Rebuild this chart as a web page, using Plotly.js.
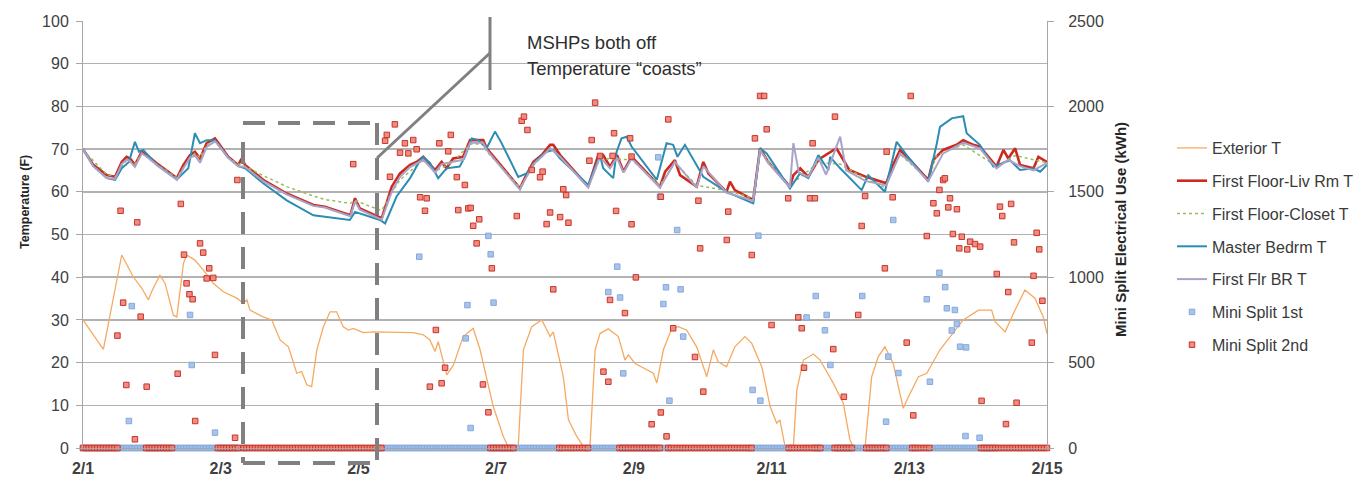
<!DOCTYPE html>
<html>
<head>
<meta charset="utf-8">
<script src="https://cdn.plot.ly/plotly-3.0.1.min.js"></script>
<style>html,body{margin:0;padding:0;background:#fff;}#chart{width:1357px;height:482px;}</style>
</head>
<body>
<div id="chart"></div>
<script>
// ---- data (x = hours since 2/1 00:00) ----
const tickHours = [0, 48, 96, 144, 192, 240, 288, 336];
const tickLabels = ['2/1', '2/3', '2/5', '2/7', '2/9', '2/11', '2/13', '2/15'];

const extH = [0,7.1,13.5,17.5,20.5,22.8,23.9,26.8,28.6,31.5,32.7,35.0,36.1,39.0,41.9,45.4,48.9,53.6,55.9,57.1,58.2,62.8,65.8,68.7,71.6,74.5,76.2,78.0,79.7,81.5,83.8,86.1,88.4,90.7,92.5,94.2,97.7,101.2,115.1,118.6,120.9,122.7,123.8,126.8,129.1,132.5,136.0,138.4,143.0,146.5,148.2,151.7,153.5,156.4,159.9,162.8,163.9,167.4,169.2,172.1,174.4,176.7,178.5,180.2,183.1,186.6,188.9,190.1,192.4,196.5,198.8,200.0,202.3,205.2,207.5,210.4,213.9,217.4,219.7,221.4,224.3,227.2,230.7,233.1,236.6,239.5,241.8,242.9,244.7,247.6,248.8,251.1,254.6,256.9,261.5,265.0,267.3,268.5,272.6,274.9,277.2,279.5,282.4,285.9,287.7,291.2,294.1,298.7,302.2,306.8,312.1,316.7,317.9,321.4,324.3,328.3,331.8,334.7,336];
const extT = [30.0,23.1,45.2,40.1,37.4,34.7,36.6,40.5,38.6,31.1,30.7,43.2,45.2,44.0,41.7,38.6,36.6,35.1,33.9,34.7,32.3,30.7,30.0,25.3,23.7,17.5,17.9,14.8,14.4,23.0,28.4,31.9,31.9,28.4,27.6,28.0,27.0,27.2,27.0,26.5,25.3,22.6,24.9,17.1,19.4,26.1,28.0,23.0,9.7,2.7,0.3,0.3,23.0,28.4,30.0,26.1,27.2,16.7,6.6,2.7,0.3,0.3,23.0,26.8,27.9,26.1,20.6,21.8,19.8,18.3,17.5,15.2,23.0,28.0,28.4,27.6,23.7,16.7,23.0,20.2,19.0,23.7,26.1,24.5,19.0,9.7,5.8,6.6,0.3,0.3,13.6,20.6,22.0,20.6,15.2,10.5,1.9,0.3,0.3,16.7,21.4,23.7,19.8,9.3,12.0,16.7,17.5,23.0,26.1,30.0,32.3,32.3,29.6,27.2,31.5,37.0,35.1,30.7,26.8];

const livH = [0,3.6,8.3,11.2,13.5,15.2,16.4,18.1,20.5,22.2,25.7,32.7,35.0,37.3,39.0,40.8,43.1,46.0,47.2,50.6,54.1,55.3,56.5,62.8,71.0,80.3,84.3,93.2,94.8,96.5,104.1,107.6,110.5,114.0,116.3,118.6,121.0,122.7,125.0,126.7,129.0,132.5,134.9,139.5,140.7,152.3,154.0,157.0,159.9,162.8,163.9,166.3,176.1,179.6,181.3,183.7,186.1,188.4,191.2,201.1,202.9,206.3,208.1,213.9,216.2,218.0,224.3,225.5,227.2,233.6,236.0,238.8,246.4,247.6,250.0,252.8,256.3,262.6,267.1,272.9,280.0,281.8,284.8,288.3,294.6,296.3,299.8,304.5,306.8,310.3,312.6,318.4,320.8,322.5,324.9,326.6,331.3,333.0,336];
const livT = [70.0,66.3,63.9,63.5,67.0,68.2,67.8,66.3,69.4,68.6,66.7,63.2,66.3,68.6,69.4,67.8,71.4,72.5,71.4,68.2,66.3,67.8,66.3,62.8,59.6,56.9,56.5,54.5,58.5,56.1,53.8,61.2,64.3,66.3,67.0,68.2,66.3,65.1,67.0,65.5,67.8,68.2,72.1,72.1,70.2,60.8,63.2,67.0,68.6,71.0,71.0,68.6,61.2,68.6,68.6,65.9,68.6,64.7,68.2,61.2,64.7,67.4,63.9,61.2,67.0,64.3,60.0,62.4,60.4,58.1,70.2,67.0,61.2,63.9,65.5,63.5,67.5,70.2,65.1,63.5,62.0,65.5,69.8,67.4,62.8,67.4,69.8,71.0,72.1,71.0,70.6,65.9,69.8,67.8,70.2,66.3,65.5,68.2,67.0];

const cloH = [0,8.3,11.2,15.2,18.1,20.5,25.7,32.7,37.3,39.0,40.8,43.1,46.0,50.6,54.1,56.5,62.8,71.0,80.3,84.3,93.2,94.8,100.0,104.1,107.6,110.5,114.0,118.6,122.7,129.0,134.9,139.5,140.7,152.3,157.0,162.8,166.3,176.1,180.2,191.2,201.1,206.3,213.9,224.3,233.6,236.0,246.4,256.3,263.9,272.9,279.5,284.8,294.6,297.5,302.2,306.8,318.4,324.9,336];
const cloT = [69.8,64.0,63.5,67.5,66.5,69.0,66.5,63.3,68.0,69.0,68.0,71.0,72.0,68.0,66.5,66.0,63.8,61.2,59.0,58.2,57.3,58.0,56.6,55.6,59.8,62.8,64.8,67.5,64.8,67.0,71.2,71.2,69.5,61.0,66.2,70.3,68.0,61.5,67.8,67.5,61.5,66.8,61.5,60.3,58.5,69.5,61.5,66.8,66.5,63.0,61.0,68.8,62.8,68.5,69.8,71.0,66.0,68.5,66.8];

const masH = [0,3.6,8.3,11.2,13.5,16.0,18.1,19.5,21.0,25.7,32.7,36.7,39.0,40.8,43.1,46.0,47.2,50.6,54.1,56.5,62.8,71.0,80.3,93.0,94.8,103.5,105.3,109.3,114.0,117.5,118.6,121.0,123.8,126.7,131.3,133.1,135.5,137.8,140.7,143.6,145.9,151.7,154.6,158.1,161.6,163.9,166.3,176.1,180.2,181.3,184.8,186.0,187.7,189.5,191.2,200.0,203.4,205.7,207.2,209.8,216.2,224.3,233.6,236.0,238.3,246.4,249.9,252.8,256.3,259.8,260.4,263.9,271.4,273.7,279.5,283.6,287.1,294.6,297.5,298.7,302.8,306.8,308.0,312.6,317.3,323.1,326.6,331.3,333.6,336];
const masT = [70.0,66.0,63.2,62.8,65.5,67.0,71.7,69.4,69.8,66.3,62.9,65.5,73.7,71.4,72.1,72.1,71.0,68.0,66.0,65.5,62.0,58.0,54.5,53.4,55.3,53.4,52.6,58.9,63.2,67.4,68.2,66.7,63.2,65.5,65.9,68.2,72.5,72.1,70.2,74.1,71.4,63.5,64.3,67.4,69.4,69.8,67.8,61.6,68.6,65.5,63.2,69.4,72.5,72.9,70.6,62.8,71.4,71.0,68.2,71.0,63.5,60.0,57.3,70.2,69.0,60.8,64.3,63.2,68.6,65.1,68.2,65.5,60.4,63.9,60.0,71.7,68.6,62.4,71.0,75.2,77.2,77.7,73.7,71.0,65.9,67.4,65.1,65.5,64.7,66.3];

const brH = [0,3.6,8.3,11.2,13.5,15.2,16.4,18.1,20.5,22.2,25.7,32.7,35.0,37.3,39.0,40.8,43.1,46.0,47.2,50.6,54.1,56.5,62.8,71.0,80.3,84.3,93.2,94.8,96.5,104.1,107.6,110.5,114.0,118.6,121.0,122.7,125.0,129.0,132.5,134.9,139.5,140.7,152.3,154.0,157.0,159.9,162.8,166.3,176.1,180.2,183.7,186.1,188.4,191.2,201.1,206.3,213.9,216.2,224.3,233.6,236.0,238.8,246.4,247.6,249.5,252.8,256.3,259.0,263.9,266.0,272.9,280.0,284.8,288.3,294.6,299.8,306.8,312.6,318.4,322.5,326.6,331.3,336];
const brT = [70.0,66.0,63.2,63.0,66.5,67.5,67.2,65.8,69.0,68.2,66.3,62.8,65.5,68.0,68.5,66.8,70.5,71.8,71.0,68.0,66.0,65.8,62.5,59.4,56.7,56.3,54.3,57.8,55.8,53.5,60.0,63.5,65.8,67.5,65.8,64.5,66.5,67.0,67.5,71.5,71.5,69.8,60.5,62.8,66.5,68.2,70.2,68.2,61.0,68.2,65.5,68.0,64.5,67.8,61.0,67.0,61.0,66.0,59.8,57.9,69.8,66.8,61.0,71.4,64.5,63.5,68.0,64.0,72.9,65.0,62.5,61.5,69.0,67.0,62.5,69.0,71.5,70.2,65.5,67.5,66.0,65.0,66.8];

// Mini split readings above zero (hour, kWh)
const ms1H = [16.0,17.0,37.3,37.9,46.0,117.2,133.4,134.0,135.1,141.3,142.1,143.1,183.1,186.2,187.2,188.3,200.5,201.1,202.3,203.2,204.4,207.1,208.3,209.2,233.4,235.4,236.1,252.2,255.4,258.6,259.2,260.5,271.6,279.9,280.7,282.4,284.2,294.1,295.2,298.5,300.5,301.1,303.9,302.8,304.6,305.7,307.8,307.6,312.5];
const ms1K = [158,831,779,486,90,1120,642,837,117,1242,1134,851,913,1062,881,437,1702,1471,843,941,277,1276,929,652,340,1243,277,764,890,689,779,486,890,154,535,1335,439,871,388,1026,942,818,808,688,726,593,589,70,60];
const ms2H = [12.0,13.1,14.0,15.1,18.1,18.9,20.1,22.2,33.0,34.1,35.2,36.1,37.1,38.2,39.1,40.8,41.9,43.1,44.0,45.4,46.0,53.0,53.8,94.2,105.3,105.9,107.0,108.7,110.5,112.2,113.4,115.1,116.3,117.5,119.2,119.8,120.9,123.0,124.2,125.0,126.2,127.3,128.2,130.3,130.8,133.1,134.3,135.1,136.0,137.2,138.1,139.4,141.3,142.5,151.2,152.9,153.7,154.9,156.4,159.3,160.2,161.6,162.8,163.9,166.3,167.4,168.4,169.2,176.5,177.3,178.5,180.2,181.4,183.1,183.7,184.6,185.1,185.8,188.9,190.7,191.2,191.2,192.7,198.2,201.4,201.4,203.4,204.0,205.7,213.3,214.5,215.1,216.2,224.4,224.9,233.1,234.2,236.0,237.4,238.3,240.0,245.8,249.3,250.5,251.3,253.4,254.3,255.1,261.5,262.1,265.2,270.2,271.4,272.6,279.5,280.1,282.2,287.1,288.5,289.4,294.1,296.4,297.6,298.5,299.8,300.4,301.6,302.2,303.2,304.6,305.4,306.3,308.2,309.2,310.9,312.7,313.2,318.5,319.6,320.4,321.7,322.5,323.5,324.5,325.4,330.7,331.3,332.4,333.3,334.4];
const ms2K = [658,1389,851,369,51,1321,769,359,435,1429,1132,964,900,871,158,1198,1144,993,1052,996,545,60,1569,1662,1799,1833,1588,1895,1729,1784,1725,1803,1749,1468,1389,1462,359,691,1784,379,470,1737,1833,1586,1393,1540,1403,1406,1301,1198,1339,372,209,1052,1358,1916,1940,1862,1628,1585,1618,1311,1379,929,1352,1515,1481,1319,1682,1803,2022,1710,447,388,867,1710,1843,1388,790,1813,1706,1310,999,139,1471,208,68,1924,701,533,1448,1169,330,1218,1384,1130,1813,2061,2061,1866,720,1462,765,701,470,1462,1784,1462,579,1940,300,779,1300,1475,1052,1735,1468,617,2061,191,1241,1433,1374,1511,1569,1579,1409,1462,1253,1398,1169,1237,1163,1208,1194,1179,276,1019,1413,1358,140,913,1429,1204,265,617,1008,1260,1163,862];
// Hour ranges where each mini split reads zero (hourly samples)
const ms1ZeroRuns = [[0,56],[104,166],[176,204],[233,246],[255,290],[296,318]];
const ms2ZeroRuns = [[0,12],[22,31],[47,54],[56,104],[142,150],[166,176],[187,201],[204,233],[246,257],[262,268],[273,280],[289,295],[313,336]];

// ---- build ----
function withZeros(h, k, runs) {
  const X = [], Y = [];
  runs.forEach(r => { for (let t = r[0]; t <= r[1]; t++) { X.push(t); Y.push(0); } });
  return { x: X.concat(h), y: Y.concat(k) };
}
const ms1 = withZeros(ms1H, ms1K, ms1ZeroRuns);
const ms2 = withZeros(ms2H, ms2K, ms2ZeroRuns);

const FONT = 'Liberation Sans, Arial, sans-serif';
const traces = [
  {x: extH, y: extT, name: 'Exterior T', mode: 'lines', line: {color: '#f5aa62', width: 1.3}, legendgroup: 'g1'},
  {x: livH, y: livT, name: 'First Floor-Liv Rm T', mode: 'lines', line: {color: '#cc2a1f', width: 2.6}, legendgroup: 'g2'},
  {x: cloH, y: cloT, name: 'First Floor-Closet T', mode: 'lines', line: {color: '#9bbb59', width: 1.5, dash: 'dot'}, legendgroup: 'g3'},
  {x: masH, y: masT, name: 'Master Bedrm T', mode: 'lines', line: {color: '#2b8db3', width: 2}, legendgroup: 'g4'},
  {x: brH, y: brT, name: 'First Flr BR T', mode: 'lines', line: {color: '#aaa2c8', width: 2}, legendgroup: 'g5'},
  {x: ms1.x, y: ms1.y, name: 'Mini Split 1st', mode: 'markers', yaxis: 'y2', cliponaxis: false,
   marker: {symbol: 'square', size: 5.5, color: 'rgba(160,190,232,0.9)', line: {color: '#85a9dc', width: 1}}, legendgroup: 'g6'},
  {x: ms2.x, y: ms2.y, name: 'Mini Split 2nd', mode: 'markers', yaxis: 'y2', cliponaxis: false,
   marker: {symbol: 'square', size: 5.5, color: 'rgba(236,130,118,0.9)', line: {color: '#c9342a', width: 1}}, legendgroup: 'g7'}
];

const L = 83, R = 1047, T = 21, B = 448;
const px = v => (v - L) / (R - L);
const py = v => (B - v) / (B - T);
const dashLine = {color: '#808080', width: 4, dash: '22px,13px'};
const solidLine = {color: '#808080', width: 3};
const shapes = [
  {type: 'line', xref: 'paper', yref: 'paper', x0: px(243), x1: px(375), y0: py(123), y1: py(123), line: dashLine},
  {type: 'line', xref: 'paper', yref: 'paper', x0: px(243), x1: px(243), y0: py(142), y1: py(463), line: dashLine},
  {type: 'line', xref: 'paper', yref: 'paper', x0: px(243), x1: px(378), y0: py(463), y1: py(463), line: dashLine},
  {type: 'line', xref: 'paper', yref: 'paper', x0: px(377), x1: px(377), y0: py(123), y1: py(463), line: dashLine},
  {type: 'line', xref: 'paper', yref: 'paper', x0: px(377), x1: px(490), y0: py(158), y1: py(53), line: solidLine},
  {type: 'line', xref: 'paper', yref: 'paper', x0: px(490), x1: px(490), y0: py(17), y1: py(90), line: solidLine}
];

const layout = {
  width: 1357, height: 482,
  margin: {l: L, r: 1357 - R, t: T, b: 482 - B, pad: 0, autoexpand: false},
  paper_bgcolor: '#fff', plot_bgcolor: '#fff',
  font: {family: FONT, size: 16, color: '#404040'},
  showlegend: true,
  legend: {x: px(1172), y: py(131), xanchor: 'left', yanchor: 'top', traceorder: 'grouped', tracegroupgap: 9,
           font: {family: FONT, size: 16, color: '#3a3a3a'}, bgcolor: 'rgba(0,0,0,0)'},
  xaxis: {range: [0, 336], tickmode: 'array', tickvals: tickHours, ticktext: tickLabels,
          showgrid: false, zeroline: false, showline: true, linecolor: '#a6a6a6', linewidth: 1,
          ticks: '', ticklabelstandoff: 6, tickfont: {family: FONT, size: 16, color: '#404040', weight: 'bold'}},
  yaxis: {range: [0, 100], dtick: 10, showgrid: true, gridcolor: '#b2b2b2', gridwidth: 1.5, zeroline: false,
          showline: true, linecolor: '#a6a6a6', ticks: 'outside', ticklen: 6, tickcolor: '#a6a6a6',
          ticklabelstandoff: 4, tickfont: {family: FONT, size: 16, color: '#404040'}},
  yaxis2: {range: [0, 2500], dtick: 500, overlaying: 'y', side: 'right', showgrid: false, zeroline: false,
           showline: true, linecolor: '#a6a6a6', ticks: 'outside', ticklen: 6, tickcolor: '#a6a6a6',
           ticklabelstandoff: 11, tickfont: {family: FONT, size: 16, color: '#404040'}},
  shapes: shapes,
  annotations: [
    {xref: 'paper', yref: 'paper', x: px(25), y: py(202), xanchor: 'center', yanchor: 'middle', showarrow: false, textangle: -90,
     text: '<b>Temperature (F)</b>', font: {family: FONT, size: 12.5, color: '#262626'}},
    {xref: 'paper', yref: 'paper', x: px(1120), y: py(230), xanchor: 'center', yanchor: 'middle', showarrow: false, textangle: -90,
     text: '<b>Mini Split Electrical Use (kWh)</b>', font: {family: FONT, size: 15, color: '#262626'}},
    {xref: 'paper', yref: 'paper', x: px(525), y: py(43), xanchor: 'left', yanchor: 'middle', showarrow: false,
     text: 'MSHPs both off', font: {family: FONT, size: 18.5, color: '#2e2e2e'}},
    {xref: 'paper', yref: 'paper', x: px(525), y: py(68), xanchor: 'left', yanchor: 'middle', showarrow: false,
     text: 'Temperature “coasts”', font: {family: FONT, size: 18.5, color: '#2e2e2e'}}
  ]
};

Plotly.newPlot('chart', traces, layout, {displayModeBar: false, staticPlot: true});
</script>
</body>
</html>
